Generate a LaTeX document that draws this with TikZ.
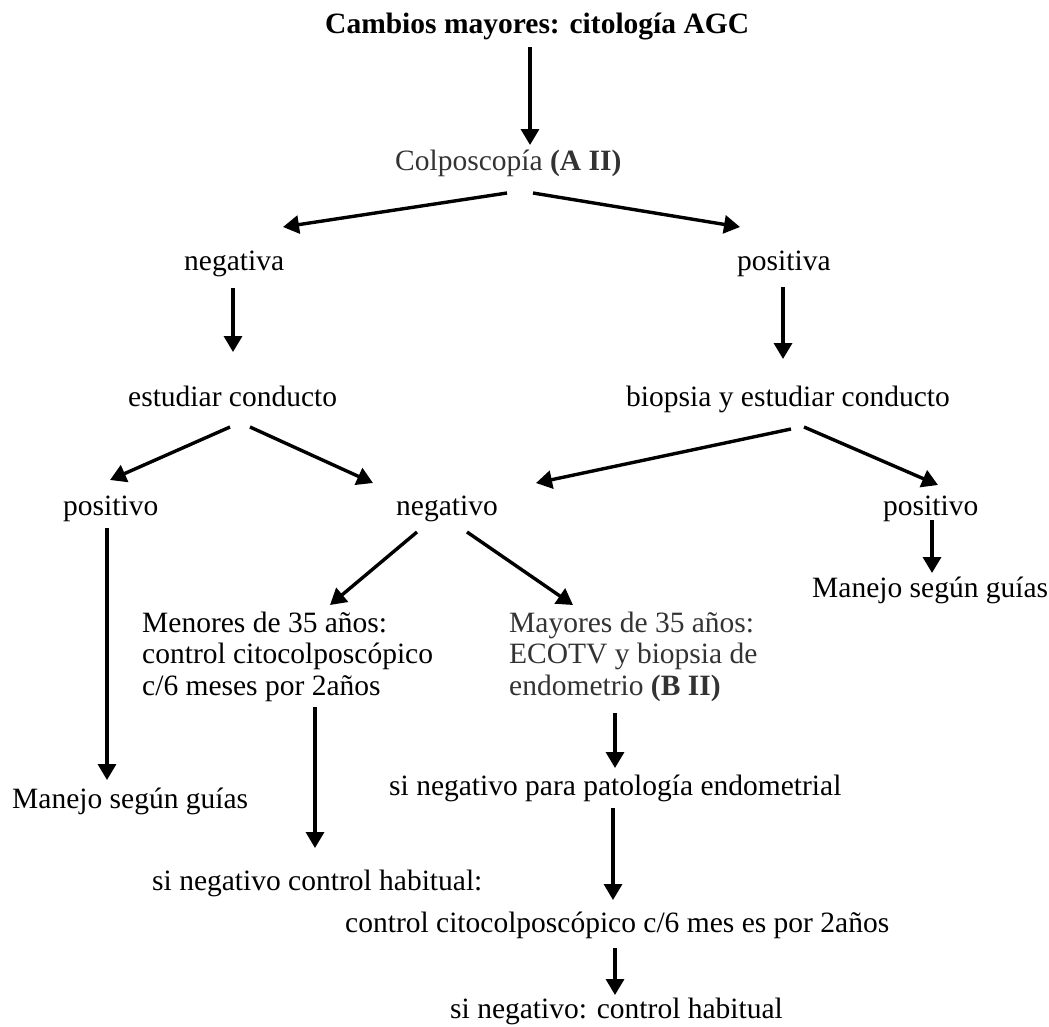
\documentclass[tikz,border=0pt]{standalone}
\usepackage{fontspec}
\setmainfont{Liberation Serif}
\usetikzlibrary{arrows.meta,calc}
\begin{document}
\begin{tikzpicture}[x=1pt,y=-1pt,
  lbl/.style={anchor=base west, inner sep=0pt, font=\fontsize{29.5}{31.7}\selectfont},
  titlelbl/.style={lbl, font=\fontsize{29.5}{31.7}\selectfont\bfseries},
  dimtext/.style={text=black!80},
  arr/.style={line width=3.4pt, -{Triangle[length=16pt,width=18pt]}}]
\useasboundingbox (0,0) rectangle (1049,1026);
\node[titlelbl] (title) at (325,33) {Cambios mayores: citología AGC};
\node[lbl,dimtext] (colpo) at (395,170) {Colposcopía \textbf{(A II)}};
\node[lbl] (negativa) at (184,270) {negativa};
\node[lbl] (positiva) at (737,270) {positiva};
\node[lbl] (estudiar) at (128,406) {estudiar conducto};
\node[lbl] (biopsia) at (626,406) {biopsia y estudiar conducto};
\node[lbl] (posL) at (63,515) {positivo};
\node[lbl] (negativo) at (396,515) {negativo};
\node[lbl] (posR) at (883,515) {positivo};
\node[lbl] (manejoR) at (812,597) {Manejo según guías};
\node[lbl] (menores) at (142,632) {\begin{tabular}[t]{@{}l@{}}Menores de 35 años:\\ control citocolposcópico\\ c/6 meses por 2años\end{tabular}};
\node[lbl,dimtext] (mayores) at (509,632) {\begin{tabular}[t]{@{}l@{}}Mayores de 35 años:\\ ECOTV y biopsia de\\ endometrio \textbf{(B II)}\end{tabular}};
\node[lbl] (manejoL) at (12,808) {Manejo según guías};
\node[lbl] (sinegpat) at (389,795) {si negativo para patología endometrial};
\node[lbl] (sinegctrl) at (152,890) {si negativo control habitual:};
\node[lbl] (control) at (345,932) {control citocolposcópico c/6 mes es por 2años};
\node[lbl] (sineg) at (450,1018) {si negativo: control habitual};

\draw[arr] ($(title.base west)+(205,14)$) -- ($(colpo.base west)+(135,-25)$);
\draw[arr] ($(colpo.base west)+(112,23)$) -- ($(negativa.base west)+(99,-43)$);
\draw[arr] ($(colpo.base west)+(138,23)$) -- ($(positiva.base west)+(3,-43)$);
\draw[arr] ($(negativa.base west)+(49,18)$) -- ($(estudiar.base west)+(105,-54)$);
\draw[arr] ($(positiva.base west)+(46,17)$) -- ($(biopsia.base west)+(157,-47)$);
\draw[arr] ($(estudiar.base west)+(102,21)$) -- ($(posL.base west)+(47,-35)$);
\draw[arr] ($(estudiar.base west)+(122,21)$) -- ($(negativo.base west)+(-23,-32)$);
\draw[arr] ($(biopsia.base west)+(165,23)$) -- ($(negativo.base west)+(140,-32)$);
\draw[arr] ($(biopsia.base west)+(178,21)$) -- ($(posR.base west)+(55,-30)$);
\draw[arr] ($(posL.base west)+(44,13)$) -- ($(manejoL.base west)+(95,-28)$);
\draw[arr] ($(posR.base west)+(49,5)$) -- ($(manejoR.base west)+(120,-24)$);
\draw[arr] ($(negativo.base west)+(21,17)$) -- ($(menores.base west)+(188,-27)$);
\draw[arr] ($(negativo.base west)+(71,17)$) -- ($(mayores.base west)+(64,-27)$);
\draw[arr] ($(menores.base west)+(173,75)$) -- ($(sinegctrl.base west)+(163,-42)$);
\draw[arr] ($(mayores.base west)+(106,81)$) -- ($(sinegpat.base west)+(226,-27)$);
\draw[arr] ($(sinegpat.base west)+(224,13)$) -- ($(control.base west)+(268,-32)$);
\draw[arr] ($(control.base west)+(270,16)$) -- ($(sineg.base west)+(165,-23)$);
\end{tikzpicture}
\end{document}
